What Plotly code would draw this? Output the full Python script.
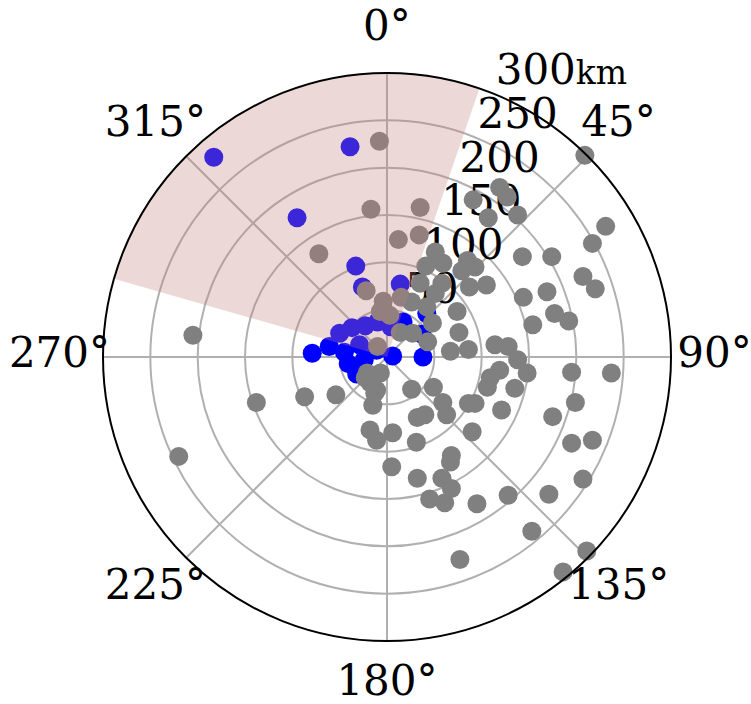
import numpy as np
import plotly.graph_objects as go

# Event offsets from the station, in km (east, north)
blue_east = [-183, -39, -95, -33, -26, 14, -50, -37, -23, -10, 4, 17,
             -79, -61, -45, -41, -32, -24, -11, 6, 38, 37, 42, -29]
blue_north = [211, 222, 147, 96, 74, 77, 25, 31, 33, 37, 32, 37,
              4, 11, 5, -7, -18, -3, 7, 1, 0, 24, 46, 13]

gray_east = [-8, -17, 35, 12, 34, -72, -22, -4, -7, 15, 3, -10, -4,
             209, 119, 127, 91, 107, 138, 231, 217, 143, 174, 51, 59, 41,
             85, 93, 79, 207, 35, 58, 87, 105, 26, 51, 42, 74, 48, 76, 67,
             86, 144, 169, 154, 177, 192, 220, 114, 128, 138, 148, 119, 109,
             106, 135, 121, 175, 199, 195, 237, 195, 217, 207, 171, 128, 95,
             153, 211, 186, 77, 90, 68, 67, 58, 68, 45, 61, 31, 32, 5, 6, 40,
             32, 59, 63, 86, 93, 49, 26, 43, 14, 27,
             -21, -7, -13, -15, -18, -11, -23, -18, -11,
             -205, -138, -87, -54, -220]
gray_north = [228, 156, 158, 124, 129, 109, 70, 59, 48, 63, 44, 11, 51,
              213, 179, 169, 166, 147, 150, 138, 120, 106, 106, 111, 99, 96,
              102, 95, 91, 85, 78, 78, 74, 76, 58, 67, 53, 48, 36, 26, 6,
              8, 63, 69, 34, 46, 38, 72, 13, 11, -3, -17, -14, -22,
              -32, -33, -56, -63, -48, -16, -17, -91, -88, -129, -145, -146, -155,
              -184, -205, -227, -214, -79, -104, -111, -128, -139, -150, -154, -90, -128, -116, -80, -61,
              -64, -48, -61, -49, -49, -32, -34, 16, 26, 25,
              -17, -17, -38, -51, -77, -88, -22, -27, -35,
              23, -48, -42, -40, -105]

# Highlighted bearing sector (degrees clockwise from north) and its extent
sector_start = 286
sector_end = 19
sector_radius = 300

# Radial ring labels
ring_values = [50, 100, 150, 200, 250, 300]
ring_labels = ["50", "100", "150", "200", "250",
               "300<span style='font-size:33px'>km</span>"]
ring_label_bearing = 22.5

# Bearing labels, set just outside the outer ring
angle_ticks = [0, 45, 90, 135, 180, 225, 270, 315]
angle_labels = [f"{a}°" for a in angle_ticks]
angle_label_radius = 346

FONT = "DejaVu Serif"
FONT_SIZE = 42
GRID = "#b0b0b0"

R_MAX = 300          # data radius of the main plot
R_OUTER = 350        # radius of the label overlay
CX, CY, RPX = 387, 357, 284   # plot centre and radius in pixels
W, H = 751, 704


def to_polar(east, north):
    e = np.asarray(east, dtype=float)
    n = np.asarray(north, dtype=float)
    r = np.hypot(e, n)
    theta = np.degrees(np.arctan2(e, n)) % 360
    return r, theta


def domain(radius_px):
    return dict(x=[(CX - radius_px) / W, (CX + radius_px) / W],
                y=[(H - CY - radius_px) / H, (H - CY + radius_px) / H])


blue_r, blue_t = to_polar(blue_east, blue_north)
gray_r, gray_t = to_polar(gray_east, gray_north)

fig = go.Figure()

# ring labels sit underneath the events
fig.add_trace(go.Scatterpolar(
    r=ring_values, theta=[ring_label_bearing] * len(ring_values),
    mode="text", text=ring_labels, textposition="top right",
    textfont=dict(family=FONT, size=FONT_SIZE, color="black"),
    marker=dict(size=1), cliponaxis=False, hoverinfo="skip"))

fig.add_trace(go.Scatterpolar(
    r=blue_r, theta=blue_t, mode="markers",
    marker=dict(size=19, color="rgb(0,0,255)", line=dict(width=0)),
    hoverinfo="skip"))

fig.add_trace(go.Scatterpolar(
    r=gray_r, theta=gray_t, mode="markers",
    marker=dict(size=19, color="rgb(128,128,128)", line=dict(width=0)),
    hoverinfo="skip"))

# translucent wedge drawn over the events
span = (sector_end - sector_start) % 360
arc = sector_start + np.linspace(0, span, 120)
wedge_t = np.concatenate([[sector_start], arc, [sector_end]])
wedge_r = np.concatenate([[0], np.full(arc.size, sector_radius), [0]])
fig.add_trace(go.Scatterpolar(
    r=wedge_r, theta=wedge_t, mode="lines", fill="toself",
    fillcolor="rgba(195,125,125,0.3)", line=dict(width=0),
    hoverinfo="skip"))

# bearing labels on a concentric, wider overlay
fig.add_trace(go.Scatterpolar(
    r=[angle_label_radius] * len(angle_ticks), theta=angle_ticks,
    mode="text", text=angle_labels, textposition="middle center",
    textfont=dict(family=FONT, size=FONT_SIZE, color="black"),
    cliponaxis=False, hoverinfo="skip", subplot="polar2"))

fig.update_layout(
    width=W, height=H,
    margin=dict(l=0, r=0, t=0, b=0),
    paper_bgcolor="white",
    showlegend=False,
    polar=dict(
        domain=domain(RPX),
        bgcolor="white",
        angularaxis=dict(
            rotation=90, direction="clockwise",
            tickmode="array", tickvals=angle_ticks, showticklabels=False,
            ticks="", showline=True, linecolor="black", linewidth=2,
            showgrid=True, gridcolor=GRID, gridwidth=2),
        radialaxis=dict(
            range=[0, R_MAX], tickmode="array", tickvals=ring_values,
            showticklabels=False, ticks="", showline=False,
            showgrid=True, gridcolor=GRID, gridwidth=2),
    ),
    polar2=dict(
        domain=domain(RPX * R_OUTER / R_MAX),
        bgcolor="rgba(0,0,0,0)",
        angularaxis=dict(rotation=90, direction="clockwise",
                         showticklabels=False, ticks="", showline=False,
                         showgrid=False),
        radialaxis=dict(range=[0, R_OUTER], visible=False,
                        showgrid=False),
    ),
)

fig.write_html("out.html")
